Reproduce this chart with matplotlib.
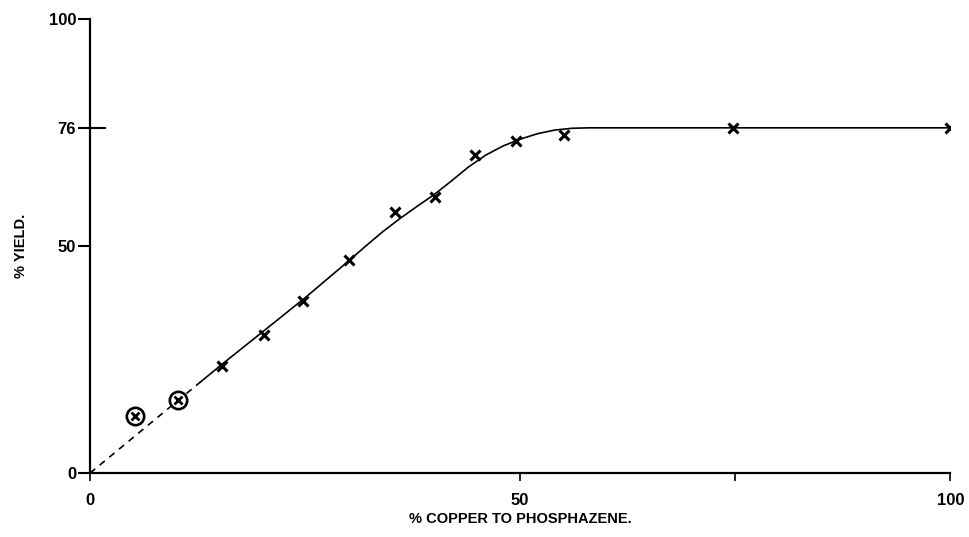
import matplotlib.pyplot as plt

# measured yields (x markers)
copper = [15.3, 20.2, 24.8, 30.1, 35.5, 40.1, 44.7, 49.5, 55.1, 74.7, 100]
yield_pct = [23.5, 30.5, 37.8, 46.9, 57.5, 60.8, 70.0, 73.0, 74.5, 76.0, 76.0]

# circled points at low copper
copper_low = [5.2, 10.2]
yield_low = [12.6, 16.2]

# drawn curve
curve_x = [12.8, 15.5, 20, 25, 30, 32, 34, 36, 38, 40, 42, 44, 46, 48, 50, 52, 54,
           56, 58, 100]
curve_y = [20.0, 24.2, 31.0, 38.6, 46.6, 49.9, 53.1, 56.0, 58.7, 61.3, 64.3, 67.4,
           70.0, 72.0, 73.5, 74.7, 75.5, 75.9, 76.0, 76.0]
dash_x = [0, 12.8]
dash_y = [0, 20.0]

plt.rcParams['font.family'] = ['Liberation Sans', 'DejaVu Sans']
plt.rcParams['font.weight'] = 'bold'

fig = plt.figure(figsize=(9.7, 5.37), dpi=100)
ax = fig.add_axes([0.0928, 0.119, 0.887, 0.846])

ax.plot(curve_x, curve_y, color='black', lw=1.2)
ax.plot(dash_x, dash_y, color='black', lw=1.2, ls=(0, (4, 3.5)))
ax.plot(copper, yield_pct, ls='none', marker='x', ms=6.5, mew=2.2, color='black')
ax.plot(copper_low, yield_low, ls='none', marker='x', ms=5.5, mew=2.0, color='black')
ax.plot(copper_low, yield_low, ls='none', marker='o', ms=12.5, mew=1.9,
        mfc='none', mec='black')

ax.set_xlim(0, 100)
ax.set_ylim(0, 100)
for s in ['top', 'right']:
    ax.spines[s].set_visible(False)
ax.spines['left'].set_linewidth(1.6)
ax.spines['bottom'].set_linewidth(1.6)

ax.set_yticks([0, 50, 76, 100])
ax.set_yticklabels(['0', '50', '76', '100'])
ax.set_xticks([0, 50, 75, 100])
ax.set_xticklabels(['0', '50', '', '100'])
ax.tick_params(axis='y', direction='out', length=9, width=1.5, pad=1, labelsize=12)
ax.tick_params(axis='x', direction='out', length=6, width=1.2, pad=8, labelsize=12)

# the 76 tick crosses the axis
ax.axhline(76, xmin=0, xmax=0.017, color='black', lw=1.5, clip_on=False)

ax.set_xlabel('% COPPER TO PHOSPHAZENE.', fontsize=10.5, fontweight='bold')
ax.set_ylabel('% YIELD.', fontsize=10.5, fontweight='bold')
ax.xaxis.set_label_coords(0.5, -0.085)
ax.yaxis.set_label_coords(-0.072, 0.5)

fig.savefig('out.png', dpi=100)
